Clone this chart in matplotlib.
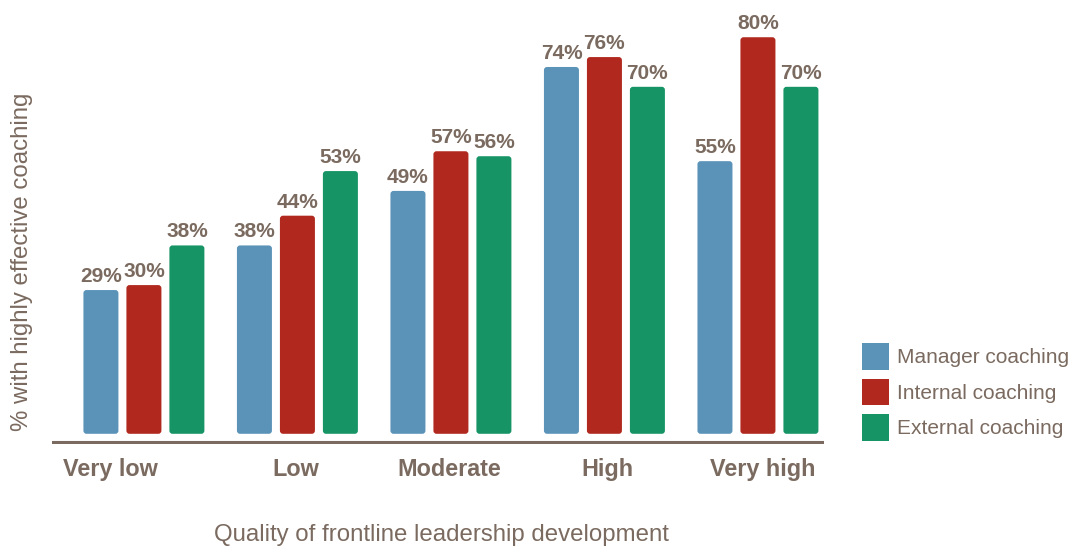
import numpy as np
import matplotlib.pyplot as plt
from matplotlib.patches import FancyBboxPatch, Patch

# Données
categories = ["Very low", "Low", "Moderate", "High", "Very high"]
series = ["Manager coaching", "Internal coaching", "External coaching"]
manager = [29, 38, 49, 74, 55]
internal = [30, 44, 57, 76, 80]
external = [38, 53, 56, 70, 70]

couleurs = ["#5b93b8", "#b0281e", "#169466"]
texte = "#7a6a5f"

plt.rcParams['font.family'] = ['Liberation Sans', 'DejaVu Sans']

fig = plt.figure(figsize=(10.87, 5.48), dpi=100)
ax = fig.add_axes([0.0478, 0.1903, 0.7102, 0.7915])

x = np.arange(len(categories))
pas = 0.28
largeur = 0.228
valeurs = [manager, internal, external]

for i, vals in enumerate(valeurs):
    barres = ax.bar(x + (i - 1) * pas, vals, largeur, color=couleurs[i])
    for b, v in zip(barres, vals):
        # on remplace chaque barre par un rectangle aux coins arrondis
        b.set_visible(False)
        r = FancyBboxPatch((b.get_x(), b.get_y()), b.get_width(), b.get_height(),
                           boxstyle="round,pad=0,rounding_size=0.02",
                           mutation_aspect=31, facecolor=couleurs[i], edgecolor="none")
        ax.add_patch(r)
        ax.text(b.get_x() + b.get_width() / 2, v + 0.8, f"{v}%", ha="center", va="bottom",
                fontsize=15, fontweight="bold", color=texte)

ax.set_xlim(-0.599, 4.43)
ax.set_ylim(-2.0, 85.5)

# axe horizontal et libellés des catégories
ax.axhline(-1.6, color=texte, lw=2.2)
positions_labels = [-0.22, 0.99, 1.99, 3.02, 4.03]
for p, c in zip(positions_labels, categories):
    ax.text(p, -4.9, c, ha="center", va="top", fontsize=16.8, fontweight="bold", color=texte,
            clip_on=False)

for s in ax.spines.values():
    s.set_visible(False)
ax.set_xticks([])
ax.set_yticks([])

fig.text(0.0202, 0.522, "% with highly effective coaching", rotation=90, ha="center", va="center",
         fontsize=17.3, color=texte)
fig.text(0.4057, 0.024, "Quality of frontline leadership development", ha="center", va="center",
         fontsize=17.3, color=texte)

poignees = [Patch(facecolor=c, edgecolor="none") for c in couleurs]
leg = fig.legend(poignees, series, loc="upper left", bbox_to_anchor=(862 / 1087, 1 - 343 / 548),
                 frameon=False, fontsize=15, handlelength=1.3, handleheight=1.6,
                 labelspacing=0.42, handletextpad=0.4, borderpad=0, borderaxespad=0)
for t in leg.get_texts():
    t.set_color(texte)

fig.savefig("out.png", dpi=100)
